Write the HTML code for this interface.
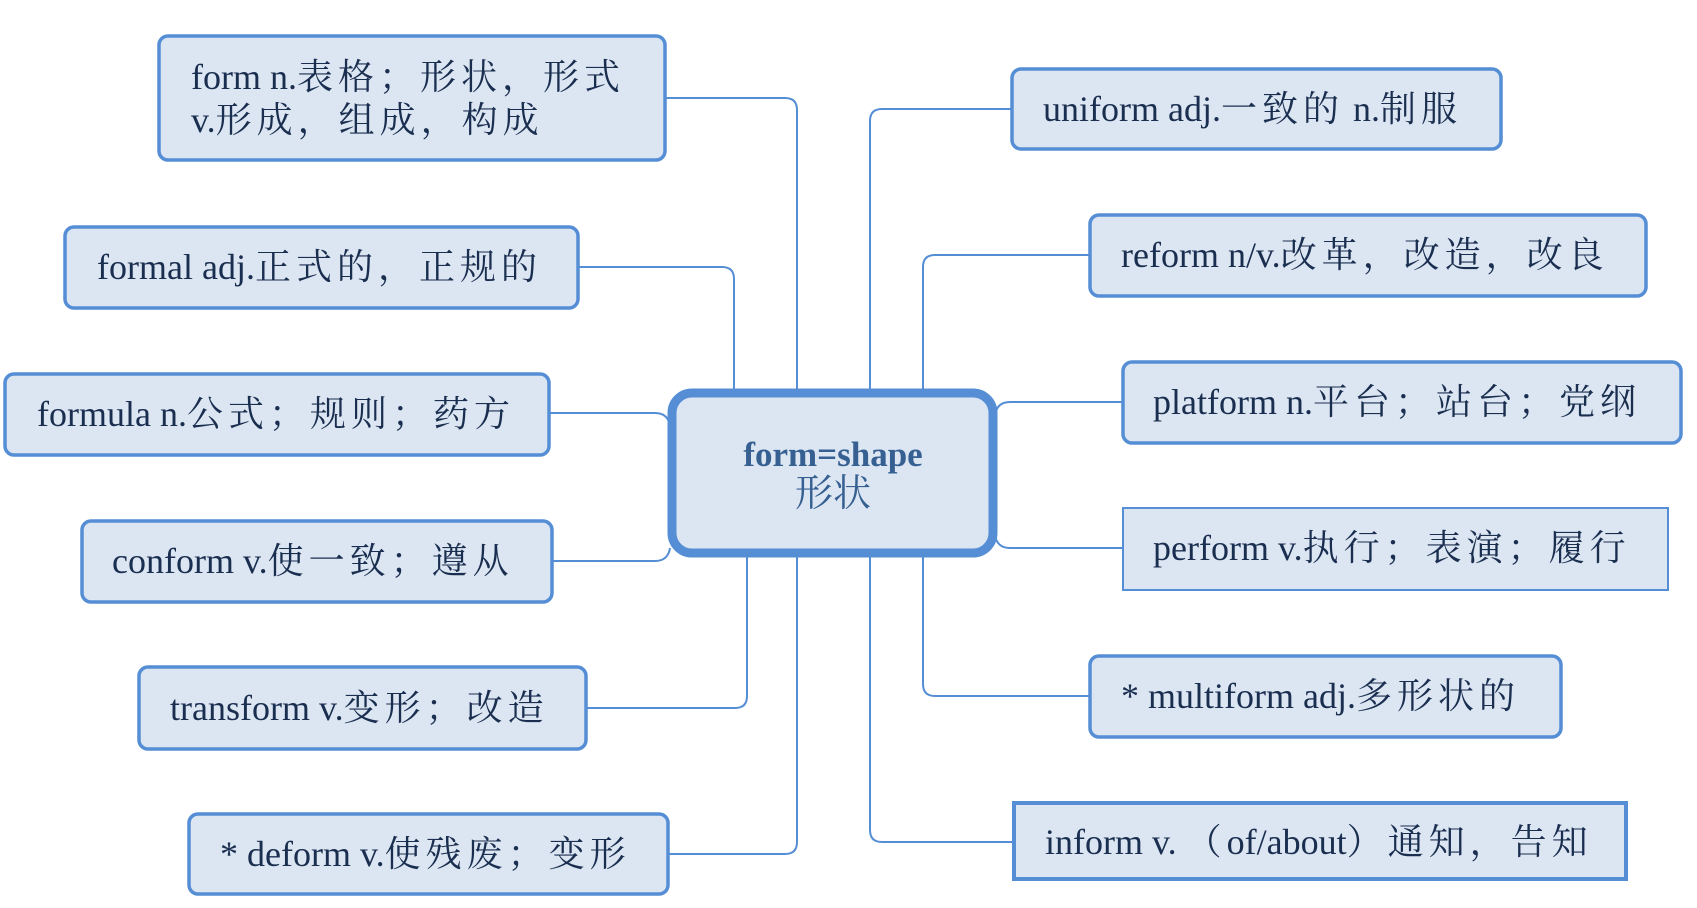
<!DOCTYPE html>
<html><head><meta charset="utf-8"><style>
html,body{margin:0;padding:0;background:#fff;}
svg{display:block;}
text{font-family:"Liberation Serif","Noto Serif CJK SC",serif;font-size:36px;fill:#1a2e50;}
tspan.c{letter-spacing:5px;}
.b{fill:#dce6f2;stroke:#558ed5;stroke-width:3.5;}
.l{fill:none;stroke:#558ed5;stroke-width:2;}
</style></head><body>
<svg width="1697" height="908" viewBox="0 0 1697 908" xmlns="http://www.w3.org/2000/svg">
<path class="l" d="M665 98 H785 Q797 98 797 110 V392"/>
<path class="l" d="M578 267 H722 Q734 267 734 279 V392"/>
<path class="l" d="M549 413 H655 Q668 413 670 426"/>
<path class="l" d="M552 561 H655 Q668 561 670 548"/>
<path class="l" d="M586 708 H735 Q747 708 747 696 V555"/>
<path class="l" d="M668 854 H785 Q797 854 797 842 V555"/>
<path class="l" d="M1012 109 H882 Q870 109 870 121 V392"/>
<path class="l" d="M1090 255 H935 Q923 255 923 267 V392"/>
<path class="l" d="M1123 402 H1010 Q997 402 995 415"/>
<path class="l" d="M1123 548 H1010 Q997 548 995 535"/>
<path class="l" d="M1090 696 H935 Q923 696 923 684 V555"/>
<path class="l" d="M1013 842 H882 Q870 842 870 830 V555"/>
<rect x="672" y="393" width="321" height="160" rx="20" fill="#dce6f2" stroke="#558ed5" stroke-width="9"/>
<text x="833" y="466" text-anchor="middle" style="font-weight:bold;fill:#366092;font-size:35px">form=shape</text>
<text x="833" y="506" text-anchor="middle" style="fill:#366092;font-size:38px">形状</text>
<rect class="b" x="159" y="36" width="506" height="124" rx="9"/>
<text x="191" y="89">form n.<tspan class="c">表格；形状，形式</tspan></text>
<text x="191" y="132">v.<tspan class="c">形成，组成，构成</tspan></text>
<rect class="b" x="65" y="227" width="513" height="81" rx="9"/>
<text x="97" y="279">formal adj.<tspan class="c">正式的，正规的</tspan></text>
<rect class="b" x="5" y="374" width="544" height="81" rx="9"/>
<text x="37" y="426">formula n.<tspan class="c">公式；规则；药方</tspan></text>
<rect class="b" x="82" y="521" width="470" height="81" rx="9"/>
<text x="112" y="573">conform v.<tspan class="c">使一致；遵从</tspan></text>
<rect class="b" x="139" y="667" width="447" height="82" rx="9"/>
<text x="170" y="720">transform v.<tspan class="c">变形；改造</tspan></text>
<rect class="b" x="189" y="814" width="479" height="80" rx="9"/>
<text x="220" y="866">* deform v.<tspan class="c">使残废；变形</tspan></text>
<rect class="b" x="1012" y="69" width="489" height="80" rx="9"/>
<text x="1043" y="121">uniform adj.<tspan class="c">一致的</tspan> n.<tspan class="c">制服</tspan></text>
<rect class="b" x="1090" y="215" width="556" height="81" rx="9"/>
<text x="1121" y="267">reform n/v.<tspan class="c">改革，改造，改良</tspan></text>
<rect class="b" x="1123" y="362" width="558" height="81" rx="9"/>
<text x="1153" y="414">platform n.<tspan class="c">平台；站台；党纲</tspan></text>
<rect x="1123" y="508" width="545" height="82" fill="#dce6f2" stroke="#558ed5" stroke-width="2"/>
<text x="1153" y="560">perform v.<tspan class="c">执行；表演；履行</tspan></text>
<rect class="b" x="1090" y="656" width="471" height="81" rx="9"/>
<text x="1121" y="708">* multiform adj.<tspan class="c">多形状的</tspan></text>
<rect x="1014" y="803" width="612" height="76" fill="#dce6f2" stroke="#558ed5" stroke-width="4"/>
<text x="1045" y="854">inform v. <tspan class="c">（</tspan>of/about<tspan class="c">）通知，告知</tspan></text>
</svg>
</body></html>
